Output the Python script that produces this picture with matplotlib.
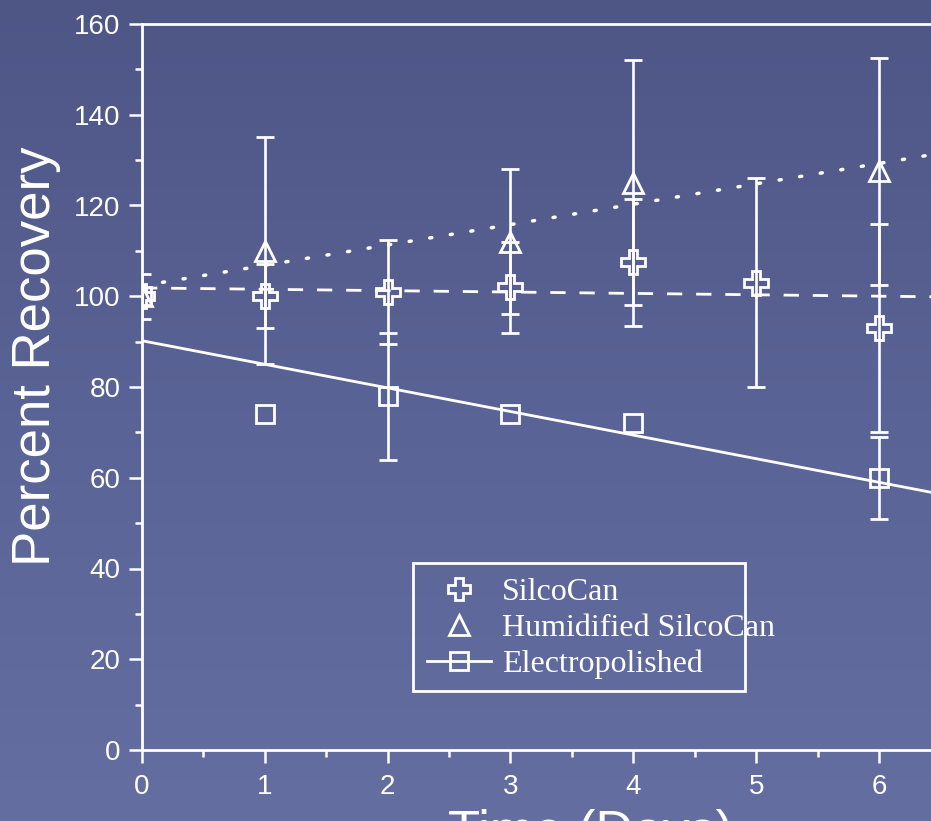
import numpy as np
import matplotlib
matplotlib.use("Agg")
import matplotlib.pyplot as plt
from matplotlib.lines import Line2D
from matplotlib.patches import Rectangle
from matplotlib.colors import LinearSegmentedColormap

# data
days_silco = [0, 1, 2, 3, 4, 5, 6]
silco = [100, 100, 101, 102, 107.5, 103, 93]
silco_err = [5, 7, 11.5, 10, 14, 23, 23]

days_humid = [0, 1, 3, 4, 6]
humid = [100, 110, 112, 125, 127.5]
humid_err = [np.nan, 25, 16, 27, 25]

days_electro = [0, 1, 2, 3, 4, 6]
electro = [100, 74, 78, 74, 72, 60]
electro_err = [np.nan, np.nan, 14, np.nan, np.nan, 9]

labels = ["SilcoCan", "Humidified SilcoCan", "Electropolished"]

W, H = 931, 821
fig = plt.figure(figsize=(W / 100, H / 100), dpi=100)

# slide background
bg = fig.add_axes([0, 0, 1, 1], zorder=-10)
cmap = LinearSegmentedColormap.from_list("slide", ["#4e5686", "#5a6395", "#646ea0"])
bg.imshow(np.linspace(0, 1, 256).reshape(-1, 1), aspect="auto", cmap=cmap,
          extent=[0, 1, 0, 1])
bg.axis("off")

XMAX = 7.3
ax = fig.add_axes([142 / W, 71 / H, XMAX * 122.83 / W, 726 / H])
ax.set_facecolor("none")
ax.set_xlim(0, XMAX)
ax.set_ylim(0, 160)

white = "white"
MEW = 2.0
ekw = dict(ecolor=white, elinewidth=1.9, capsize=6.5, capthick=1.9, linestyle="none",
           mfc="none", mec=white, mew=MEW, zorder=3)
ax.errorbar(days_silco, silco, yerr=silco_err, marker="P", ms=17, **ekw)
ax.errorbar(days_humid, humid, yerr=humid_err, marker="^", ms=15, **ekw)
ax.errorbar(days_electro, electro, yerr=electro_err, marker="s", ms=13.5, **ekw)

# linear fits
xfit = np.array([0, XMAX])
p = np.polyfit(days_silco, silco, 1)
ax.plot(xfit, np.polyval(p, xfit), color=white, lw=2, ls=(0, (5.5, 5)), zorder=2)
p = np.polyfit(days_humid, humid, 1)
ax.plot(xfit, np.polyval(p, xfit), color=white, lw=2.5, ls=(0, (0.6, 5.4)),
        dash_capstyle="round", zorder=2)
p = np.polyfit(days_electro, electro, 1)
ax.plot(xfit, np.polyval(p, xfit), color=white, lw=2, zorder=2)

# axes styling
for s in ["left", "bottom", "top"]:
    ax.spines[s].set_color(white)
    ax.spines[s].set_linewidth(2)
ax.spines["right"].set_visible(False)
ax.set_xticks(range(0, 7))
ax.set_xticks(np.arange(0.5, 7, 1), minor=True)
ax.set_yticks(range(0, 161, 20))
ax.set_yticks(range(10, 160, 20), minor=True)
ax.tick_params(which="major", length=9.5, width=1.8, color=white, labelcolor=white,
               labelsize=20, direction="out")
ax.tick_params(which="minor", length=5, width=1.8, color=white, direction="out")
ax.tick_params(axis="y", pad=6)
ax.tick_params(axis="x", pad=8)
for t in ax.get_xticklabels() + ax.get_yticklabels():
    t.set_fontfamily("Liberation Sans")

ax.set_ylabel("Percent Recovery", fontsize=38, color=white, family="Liberation Sans")
ax_w = XMAX * 122.83
ax.yaxis.set_label_coords((61 - 142) / ax_w, (750 - 356) / 726)
ax.set_xlabel("Time (Days)", fontsize=38, color=white, family="Liberation Sans")
ax.xaxis.set_label_coords((591 - 142) / ax_w, (750 - 809) / 726)

# legend
handles = [
    Line2D([], [], ls="none", marker="P", ms=16, mfc="none", mec=white, mew=MEW),
    Line2D([], [], ls="none", marker="^", ms=14, mfc="none", mec=white, mew=MEW),
    Line2D([], [], color=white, lw=2, marker="s", ms=13, mfc="none", mec=white, mew=MEW),
]
leg = ax.legend(handles, labels, loc="upper left", frameon=False,
                bbox_to_anchor=((427 - 142) / ax_w, (750 - 578) / 726),
                borderpad=0, borderaxespad=0, handlelength=2.0, handletextpad=0.35,
                labelspacing=0.2,
                prop={"family": "Liberation Serif", "size": 23})
for t in leg.get_texts():
    t.set_color(white)
ax.add_patch(Rectangle(((413 - 142) / 122.83, (750 - 691) / 4.5375),
                       (745 - 413) / 122.83, (691 - 563) / 4.5375,
                       fill=False, ec=white, lw=2, zorder=4))

fig.savefig("out.png", dpi=100)
